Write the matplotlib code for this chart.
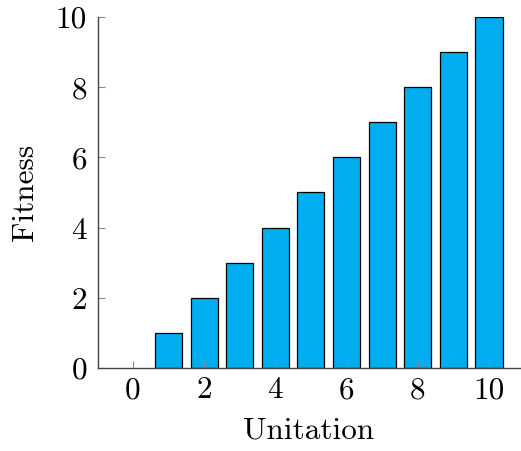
import matplotlib
matplotlib.use("Agg")
import matplotlib.pyplot as plt

unitation = [0, 1, 2, 3, 4, 5, 6, 7, 8, 9, 10]
fitness = [0, 1, 2, 3, 4, 5, 6, 7, 8, 9, 10]
xticks = [0, 2, 4, 6, 8, 10]
yticks = [0, 2, 4, 6, 8, 10]

plt.rcParams['font.family'] = ['cmr10', 'DejaVu Serif']
plt.rcParams['axes.formatter.use_mathtext'] = True

fig = plt.figure(figsize=(5.21, 4.51), dpi=100)
ax = fig.add_axes([98/521, 1-368/451, (520-98)/521, (368-17)/451])
ax.bar(unitation, fitness, width=0.76, color='#00AEEF', edgecolor='black',
       linewidth=[0 if v == 0 else 0.9 for v in fitness], zorder=1)
ax.set_xlim(-0.98, 10.87)
ax.set_ylim(0, 10)
ax.set_xticks(xticks)
ax.set_yticks(yticks)
ax.set_xticklabels([str(t) for t in xticks])
ax.set_yticklabels([str(t) for t in yticks])
for s in ['top', 'right']:
    ax.spines[s].set_visible(False)
for s in ['left', 'bottom']:
    ax.spines[s].set_color('#444444')
    ax.spines[s].set_linewidth(1.0)
ax.tick_params(direction='in', length=5, width=0.8, color='#888888', labelsize=22.5)
ax.tick_params(axis='x', pad=6)
ax.tick_params(axis='y', pad=8)
ax.set_xlabel('Unitation', fontsize=22.5, labelpad=9)
ax.set_ylabel('Fitness', fontsize=22.5, labelpad=12)
fig.savefig('out.png', dpi=100)
